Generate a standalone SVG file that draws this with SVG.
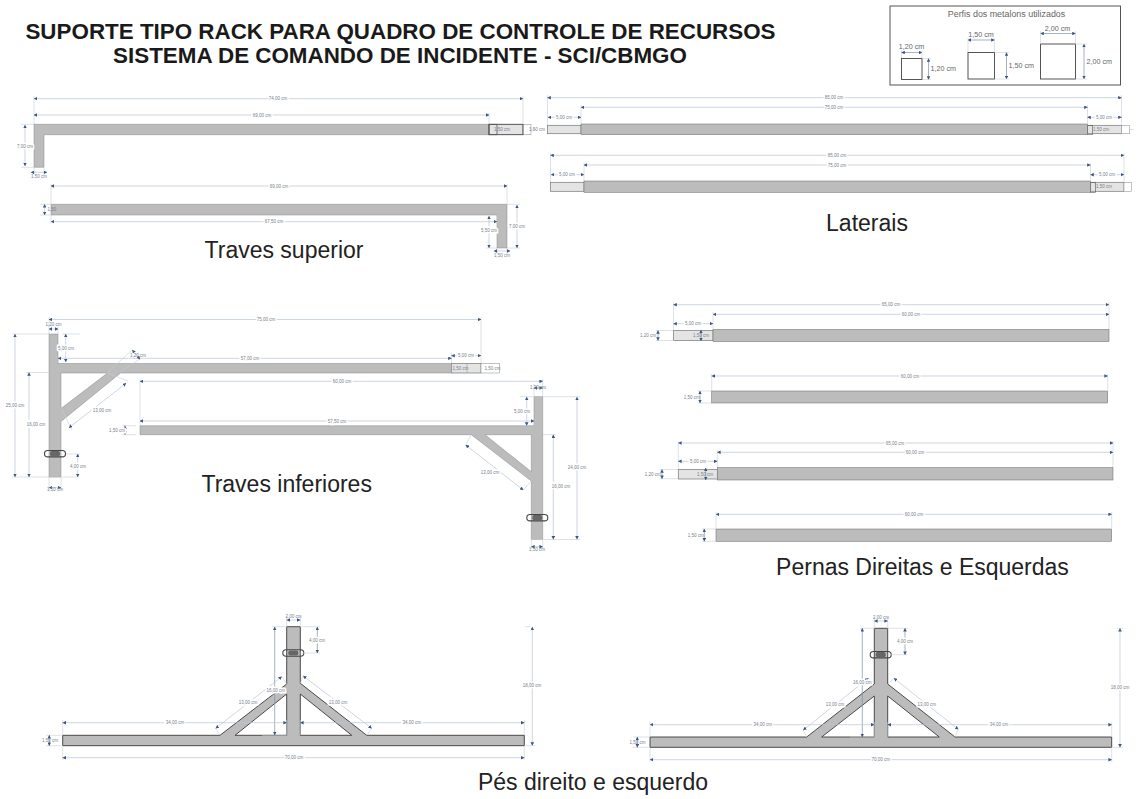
<svg xmlns="http://www.w3.org/2000/svg" width="1137" height="799" viewBox="0 0 1137 799">
<style>
text{font-family:"Liberation Sans",Arial,sans-serif}
.h{font-size:22.4px;font-weight:700;fill:#1a1a1a;text-anchor:middle}
.c{font-size:23px;fill:#222;text-anchor:middle}
.s{font-size:4.5px;fill:#77808c;text-anchor:middle;paint-order:stroke;stroke:#fff;stroke-width:3px}
.i{font-size:4.5px;fill:#77808c;text-anchor:middle}
.p{font-size:7.2px;fill:#666;text-anchor:middle}
.q{font-size:7.2px;fill:#666}
.b{fill:#bcbcbc;stroke:#888;stroke-width:.5}
.k{fill:#bcbcbc;stroke:#3a3a3a;stroke-width:.9;fill-rule:evenodd}
.l{fill:#e4e4e4;stroke:#777;stroke-width:.7}
.w{fill:#fff;stroke:#999;stroke-width:.6}
.o{fill:none;stroke:#555;stroke-width:1}
.r{fill:none;stroke:#444;stroke-width:1.1}
.m{fill:#666}
.sq{fill:#fff;stroke:#555;stroke-width:1}
.d{stroke:#b9c4d6;stroke-width:.7;fill:none;marker-start:url(#a);marker-end:url(#a)}
.e{stroke:#c8ccd5;stroke-width:.6;fill:none}
.f{stroke:#7f90ae;stroke-width:.7;fill:none;marker-start:url(#a);marker-end:url(#a)}
</style>
<defs>
<marker id="a" viewBox="0 0 6 6" refX="5.5" refY="3" markerWidth="3.6" markerHeight="3.6" markerUnits="userSpaceOnUse" orient="auto-start-reverse"><path d="M0 0L6 3L0 6Z" fill="#3c5680"/></marker>
<g id="ring"><rect x="-10.5" y="-3.2" width="21" height="6.4" rx="3.2" class="r"/><rect x="-5" y="-2.6" width="10" height="5.2" rx="2" class="m"/></g>
</defs>
<rect width="1137" height="799" fill="#fff"/>
<g id="titulo">
<text class="h" x="400.5" y="38.5">SUPORTE TIPO RACK PARA QUADRO DE CONTROLE DE RECURSOS</text>
<text class="h" x="400" y="62.5">SISTEMA DE COMANDO DE INCIDENTE - SCI/CBMGO</text>
</g>
<g id="perfis">
<rect x="890" y="6" width="230.5" height="79" fill="#fff" stroke="#555" stroke-width="1"/>
<text class="p" x="1006.5" y="16.5" style="font-size:8.9px">Perfis dos metalons utilizados</text>
<rect class="sq" x="901.5" y="58.5" width="20.5" height="21"/>
<rect class="sq" x="968" y="52.5" width="26.5" height="26.5"/>
<rect class="sq" x="1040.5" y="44" width="35" height="35"/>
<line class="f" x1="901.5" y1="52.5" x2="922" y2="52.5"/><line class="f" x1="928.5" y1="58.5" x2="928.5" y2="79.5"/>
<line class="f" x1="968" y1="40" x2="994.5" y2="40"/><line class="f" x1="1006.5" y1="52.5" x2="1006.5" y2="79"/>
<line class="f" x1="1040.5" y1="33.5" x2="1075.5" y2="33.5"/><line class="f" x1="1084" y1="44" x2="1084" y2="79"/>
<path class="e" d="M901.5 50V58M922 50V58M922 58.5H931M922 79.5H931M968 38V52M994.5 38V52M994.5 52.5H1009M994.5 79H1009M1040.5 31V44M1075.5 31V44M1075.5 44H1087M1075.5 79H1087"/>
<text class="p" x="911.5" y="49">1,20 cm</text><text class="q" x="930.5" y="71">1,20 cm</text>
<text class="p" x="981" y="37">1,50 cm</text><text class="q" x="1008.5" y="68">1,50 cm</text>
<text class="p" x="1057.5" y="31">2,00 cm</text><text class="q" x="1086.5" y="64">2,00 cm</text>
</g>

<g id="traves-superior">
<path id="ts1" class="b" d="M34 124.3H489V134.7H44V167.3H34Z"/>
<rect class="l" x="489" y="124.3" width="34" height="10.4"/>
<rect x="489" y="124.3" width="8" height="10.4" fill="none" stroke="#555" stroke-width=".8"/>
<rect x="523" y="124.3" width="8" height="10.4" class="w"/>
<rect x="489" y="124.3" width="34" height="10.4" fill="none" stroke="#555" stroke-width=".8"/>
<path id="ts2" class="b" d="M51 204.3H507V248H497V215H51Z"/>
<text class="c" x="284" y="258">Traves superior</text>
</g>
<g id="laterais">
<rect class="l" x="547.5" y="125.3" width="33.5" height="8.4"/><rect class="l" x="1087.5" y="125.3" width="34" height="8.4"/><rect class="w" x="1121.5" y="125.3" width="8" height="8.4"/>
<rect class="o" x="1087.5" y="125.3" width="5" height="9.4" style="stroke-width:.6"/>
<rect class="b" x="581" y="124" width="506.5" height="10.7" style="stroke:#666"/>
<rect class="l" x="550.5" y="182.3" width="33.5" height="9"/><rect class="l" x="1090.5" y="182.3" width="33.5" height="9"/><rect class="w" x="1124" y="182.3" width="7.5" height="9"/>
<rect class="o" x="1090.5" y="182.3" width="5" height="10" style="stroke-width:.6"/>
<rect class="b" x="584" y="181" width="506.5" height="11.3" style="stroke:#666"/>
<text class="c" x="867" y="231">Laterais</text>
</g>
<g id="traves-inferiores">
<rect class="l" x="451.5" y="363.5" width="29.5" height="9.5"/><rect class="w" x="481" y="363.5" width="18.5" height="9.5"/>
<path class="o" d="M467 363.5V373" style="stroke-width:.6;stroke:#999"/>
<path id="ti1" class="b" d="M49 334H58V363.5H451.5V373H120.5L61 421.5V477H49ZM61 373V408.5L107.5 373Z" fill-rule="evenodd"/>
<use href="#ring" x="55" y="453.7"/>
<path id="ti2" class="b" d="M534 396.5H542.7V539.5H531.3V481L471.3 434.7H140V425.7H534ZM485 434.7L531.3 471.7V434.7Z" fill-rule="evenodd"/>
<use href="#ring" x="537.3" y="517.7"/>
<text class="c" x="286.7" y="492">Traves inferiores</text>
</g>
<g id="pernas">
<rect class="l" x="673.5" y="330.5" width="39.5" height="10"/><rect class="b" x="713" y="329.5" width="396" height="12" style="stroke:#666"/>
<rect class="b" x="711.7" y="391" width="396" height="12" style="stroke:#666"/>
<rect class="l" x="678.3" y="469.5" width="39" height="9.5"/><rect class="b" x="717.3" y="467.7" width="395.7" height="12.3" style="stroke:#666"/>
<rect class="b" x="716" y="529" width="395.7" height="12.3" style="stroke:#666"/>
<text class="c" x="922.5" y="575">Pernas Direitas e Esquerdas</text>
</g>
<g id="pes">
<path id="pe1" class="k" d="M62.7 745.7H524.3V735.3H366.7L300.3 683.3V626.7H286.7V684L220 735.3H62.7ZM235 735.3L286.7 694V735.3ZM300.3 694L351.7 735.3H300.3Z"/>
<use href="#ring" x="293.3" y="653"/>
<path id="pe2" class="k" d="M650 747.3H1111.7V737H955L887.7 684V628.3H874.3V684L806.7 737H650ZM821.7 737L874.3 696V737ZM887.7 696L939.3 737H887.7Z"/>
<use href="#ring" x="880.7" y="654.7"/>
<text class="c" x="593" y="790">Pés direito e esquerdo</text>
</g>

<g id="cotas">
<path class="e" d="M34 96V124M523 96V124M489 113V124M21 124.3H34M21 167.3H34M34 167.3V175M44 167.3V175M531 129.5H536M51 184V204M507 184V204M40 204.3H51M40 215H51M51 215V224M497 215V224M507 204.3H520M507 248H520M497 248H486M497 248V254M507 248V254"/>
<line class="d" x1="34" y1="98.7" x2="523" y2="98.7"/><line class="d" x1="34" y1="115" x2="489" y2="115"/><line class="d" x1="25" y1="125" x2="25" y2="166"/><line class="d" x1="31" y1="172.3" x2="47" y2="172.3"/>
<line class="d" x1="51" y1="186" x2="507" y2="186"/><line class="d" x1="51" y1="221.7" x2="497" y2="221.7"/><line class="d" x1="44.6" y1="204.3" x2="44.6" y2="215"/><line class="d" x1="517" y1="205" x2="517" y2="248"/><line class="d" x1="489" y1="216" x2="489" y2="248"/><line class="d" x1="494" y1="251" x2="510" y2="251"/>
<text class="s" x="278" y="100.2">74,00 cm</text><text class="s" x="262" y="116.5">69,00 cm</text><text class="s" x="25" y="147.5">7,00 cm</text><text class="i" x="39" y="177.5">1,50 cm</text><text class="i" x="502" y="131">1,50 cm</text><text class="i" x="537" y="131">1,50 cm</text>
<text class="s" x="279" y="187.5">69,00 cm</text><text class="s" x="274" y="223.2">67,50 cm</text><text class="i" x="52" y="211">1,50</text><text class="s" x="517" y="227.5">7,00 cm</text><text class="s" x="489" y="232">5,50 cm</text><text class="i" x="502" y="257">1,50 cm</text>

<path class="e" d="M547.5 95V125M581 105V124M1087.5 105V124M1121.5 95V125M1129.5 129.5H1134M550.5 153V182M584 163V181M1090.5 163V181M1124 153V182"/>
<line class="d" x1="547.5" y1="97.7" x2="1121.5" y2="97.7"/><line class="d" x1="581" y1="107.3" x2="1087.5" y2="107.3"/><line class="d" x1="548" y1="117.3" x2="581" y2="117.3"/><line class="d" x1="1087.5" y1="117.3" x2="1121.5" y2="117.3"/>
<line class="d" x1="550.5" y1="155.3" x2="1124" y2="155.3"/><line class="d" x1="584" y1="165" x2="1090.5" y2="165"/><line class="d" x1="551" y1="174.7" x2="584" y2="174.7"/><line class="d" x1="1090.5" y1="174.7" x2="1124" y2="174.7"/>
<text class="s" x="834" y="99.2">85,00 cm</text><text class="s" x="834" y="108.8">75,00 cm</text><text class="s" x="564" y="118.8">5,00 cm</text><text class="s" x="1104" y="118.8">5,00 cm</text><text class="i" x="1101" y="131">1,50 cm</text>
<text class="s" x="837" y="156.8">85,00 cm</text><text class="s" x="837" y="166.5">75,00 cm</text><text class="s" x="567" y="176.2">5,00 cm</text><text class="s" x="1107" y="176.2">5,00 cm</text><text class="i" x="1104" y="188">1,50 cm</text>

<path class="e" d="M49 317V334M58 325V334M481 317V363M451.5 353V363M58 356V363M62 334H80M12 334H49M12 477H78M26 372.5H49M49 477V490M61 477V490M66 454H80M61 408 72 430M107.5 373 128 381M120 372 140 359M107 373 132 350"/>
<line class="d" x1="49" y1="319.5" x2="481" y2="319.5"/><line class="d" x1="58" y1="358.3" x2="451.5" y2="358.3"/><line class="d" x1="451.5" y1="355.7" x2="481" y2="355.7"/><line class="d" x1="49" y1="329" x2="58" y2="329"/><line class="d" x1="65.7" y1="334" x2="65.7" y2="362"/><line class="d" x1="15" y1="334" x2="15" y2="477"/><line class="d" x1="29" y1="372.5" x2="29" y2="477"/><line class="d" x1="77.7" y1="454" x2="77.7" y2="477"/><line class="d" x1="49" y1="487.7" x2="61" y2="487.7"/><line class="d" x1="69" y1="427.7" x2="126" y2="383.3"/><line class="d" x1="132.3" y1="350" x2="140" y2="359.3"/>
<text class="s" x="266" y="321">75,00 cm</text><text class="s" x="250" y="360">57,00 cm</text><text class="s" x="466" y="357">5,00 cm</text><text class="i" x="53.5" y="326">1,20 cm</text><text class="s" x="66" y="350">5,00 cm</text><text class="s" x="15" y="406.5">25,00 cm</text><text class="s" x="36" y="425.5">16,00 cm</text><text class="s" x="78" y="467.5">4,00 cm</text><text class="i" x="55" y="491">1,50 cm</text><text class="s" x="102" y="411.5">13,00 cm</text><text class="i" x="138" y="357">1,20 cm</text><text class="i" x="460.5" y="369.5">1,50 cm</text><text class="i" x="492.5" y="369.5">1,50 cm</text>

<path class="e" d="M140 379V425.7M542.7 379V396.5M534 419V425.7M534 384V396.5M520 396.7H580M522 425.7H534M542.7 434.7H556M531 539.5H580M531.3 539.5V549M542.7 539.5V549M136 434.7H122M136 425.7H122M531.3 481 523.3 490M471.3 434.7 465.7 445"/>
<line class="d" x1="140" y1="381.3" x2="542.7" y2="381.3"/><line class="d" x1="140" y1="421" x2="534" y2="421"/><line class="d" x1="534" y1="388" x2="542.7" y2="388"/><line class="d" x1="526.7" y1="397" x2="526.7" y2="425.5"/><line class="d" x1="553.3" y1="434.7" x2="553.3" y2="539.3"/><line class="d" x1="577" y1="397" x2="577" y2="539.3"/><line class="d" x1="531.3" y1="546.7" x2="542.7" y2="546.7"/><line class="d" x1="125" y1="425.7" x2="125" y2="434.7"/><line class="d" x1="465.7" y1="445" x2="523.3" y2="490"/>
<text class="s" x="342" y="382.8">60,00 cm</text><text class="s" x="337" y="422.5">57,50 cm</text><text class="i" x="538" y="389">1,20 cm</text><text class="s" x="522" y="412.5">5,00 cm</text><text class="s" x="561" y="487.5">16,00 cm</text><text class="s" x="577" y="468.5">24,00 cm</text><text class="i" x="537" y="550.5">1,50 cm</text><text class="s" x="117" y="431.5">1,50 cm</text><text class="s" x="490" y="473.5">13,00 cm</text>

<path class="e" d="M673.5 302V330M713 312V329M1109 302V329M656 330.5H673.5M656 340.5H673.5M711.7 374V391M1107.7 374V391M698 391H711.7M698 403H711.7M678.3 441V469M717.3 450V467M1113 441V467M660 469.5H678.3M660 478.7H678.3M716 512V529M1111.7 512V529M702 529H716M702 541.3H716"/>
<line class="d" x1="673.5" y1="304.7" x2="1109" y2="304.7"/><line class="d" x1="713" y1="314.3" x2="1109" y2="314.3"/><line class="d" x1="673.5" y1="323.7" x2="713" y2="323.7"/><line class="f" x1="658" y1="330.5" x2="658" y2="340.5"/><line class="f" x1="701" y1="330" x2="701" y2="341"/>
<text class="s" x="891" y="306.2">65,00 cm</text><text class="s" x="911" y="315.8">60,00 cm</text><text class="s" x="693" y="325.2">5,00 cm</text><text class="i" x="648" y="337.2">1,20 cm</text><text class="i" x="701" y="337">1,50 cm</text>
<line class="d" x1="711.7" y1="376" x2="1107.7" y2="376"/><line class="f" x1="700" y1="391" x2="700" y2="403"/>
<text class="s" x="910" y="377.5">60,00 cm</text><text class="i" x="691.7" y="398.5">1,50 cm</text>
<line class="d" x1="678.3" y1="443" x2="1113" y2="443"/><line class="d" x1="717.3" y1="452.3" x2="1113" y2="452.3"/><line class="d" x1="678.3" y1="461.3" x2="717.3" y2="461.3"/><line class="f" x1="662" y1="469.5" x2="662" y2="478.7"/><line class="f" x1="705.7" y1="468" x2="705.7" y2="480"/>
<text class="s" x="895" y="444.5">65,00 cm</text><text class="s" x="915" y="453.8">60,00 cm</text><text class="s" x="698" y="462.8">5,00 cm</text><text class="i" x="652.7" y="475.5">1,20 cm</text><text class="i" x="705" y="475.5">1,50 cm</text>
<line class="d" x1="716" y1="514.3" x2="1111.7" y2="514.3"/><line class="f" x1="704.3" y1="529" x2="704.3" y2="541.3"/>
<text class="s" x="914" y="515.8">60,00 cm</text><text class="i" x="695.7" y="536.5">1,50 cm</text>

<path class="e" d="M286.7 616V626.7M300.3 616V626.7M272 626.7H286.7M300.3 626.7H320M300.3 653H320M530 626.7H525M62.7 720V735M524.3 720V735M62.7 746V760M524.3 746V760M46 735.3H62.7M46 745.7H62.7M524.3 745.7H535M286.7 720V735M300.3 720V735M220 735.3 215.7 728.3M286.7 684 281.7 676.7M300.3 683.3 303.3 676M366.7 735.3 371.7 728.3M262 735.3H286.7"/>
<line class="d" x1="286.7" y1="620" x2="300.3" y2="620"/><line class="f" x1="317.3" y1="627" x2="317.3" y2="653"/><line class="f" x1="274.7" y1="627" x2="274.7" y2="735"/><line class="d" x1="532.3" y1="627" x2="532.3" y2="745.5"/><line class="d" x1="62.7" y1="722.7" x2="286.7" y2="722.7"/><line class="d" x1="300.3" y1="722.7" x2="524.3" y2="722.7"/><line class="d" x1="62.7" y1="757.7" x2="524.3" y2="757.7"/><line class="f" x1="49.3" y1="735.3" x2="49.3" y2="745.7"/><line class="d" x1="215.7" y1="728.3" x2="281.7" y2="676.7"/><line class="d" x1="303.3" y1="676" x2="371.7" y2="728.3"/>
<text class="i" x="293.5" y="618">2,00 cm</text><text class="s" x="317" y="641.5">4,00 cm</text><text class="s" x="275.7" y="691.5">16,00 cm</text><text class="s" x="532" y="687">18,00 cm</text><text class="s" x="175" y="724.2">34,00 cm</text><text class="s" x="411.7" y="724.2">34,00 cm</text><text class="s" x="294" y="759.2">70,00 cm</text><text class="i" x="50" y="741.5">1,50 cm</text><text class="s" x="248" y="703.5">13,00 cm</text><text class="s" x="338" y="703.5">13,00 cm</text>

<path class="e" d="M874.3 617V628.3M887.7 617V628.3M860 628.3H874.3M887.7 628.3H908M887.7 654.7H908M650 722V737M1111.7 722V737M650 748V762M1111.7 748V762M633 737H650M633 747.3H650M1111.7 747.3H1123M874.3 722V737M887.7 722V737M806.7 737 803.3 730M874.3 684 868.3 678.3M887.7 684 894 678.3M955 737 958.3 729.3M850 737H874.3M1117 628.3H1123"/>
<line class="d" x1="874.3" y1="621" x2="887.7" y2="621"/><line class="f" x1="905" y1="628.3" x2="905" y2="654.7"/><line class="f" x1="862.3" y1="628.3" x2="862.3" y2="737"/><line class="d" x1="1120" y1="628.3" x2="1120" y2="747.3"/><line class="d" x1="650" y1="724.7" x2="874.3" y2="724.7"/><line class="d" x1="887.7" y1="724.7" x2="1111.7" y2="724.7"/><line class="d" x1="650" y1="759.7" x2="1111.7" y2="759.7"/><line class="f" x1="637.3" y1="737" x2="637.3" y2="747.3"/><line class="d" x1="803.3" y1="730" x2="868.3" y2="678.3"/><line class="d" x1="894" y1="678.3" x2="958.3" y2="729.3"/>
<text class="i" x="881" y="619">2,00 cm</text><text class="s" x="905" y="642.5">4,00 cm</text><text class="s" x="862.3" y="684.2">16,00 cm</text><text class="s" x="1120" y="689.2">18,00 cm</text><text class="s" x="762.7" y="726.2">34,00 cm</text><text class="s" x="999" y="726.2">34,00 cm</text><text class="s" x="880.7" y="761.2">70,00 cm</text><text class="i" x="637.5" y="743.5">1,50 cm</text><text class="s" x="835" y="705.8">13,00 cm</text><text class="s" x="926.7" y="705.8">13,00 cm</text>
</g>
</svg>
